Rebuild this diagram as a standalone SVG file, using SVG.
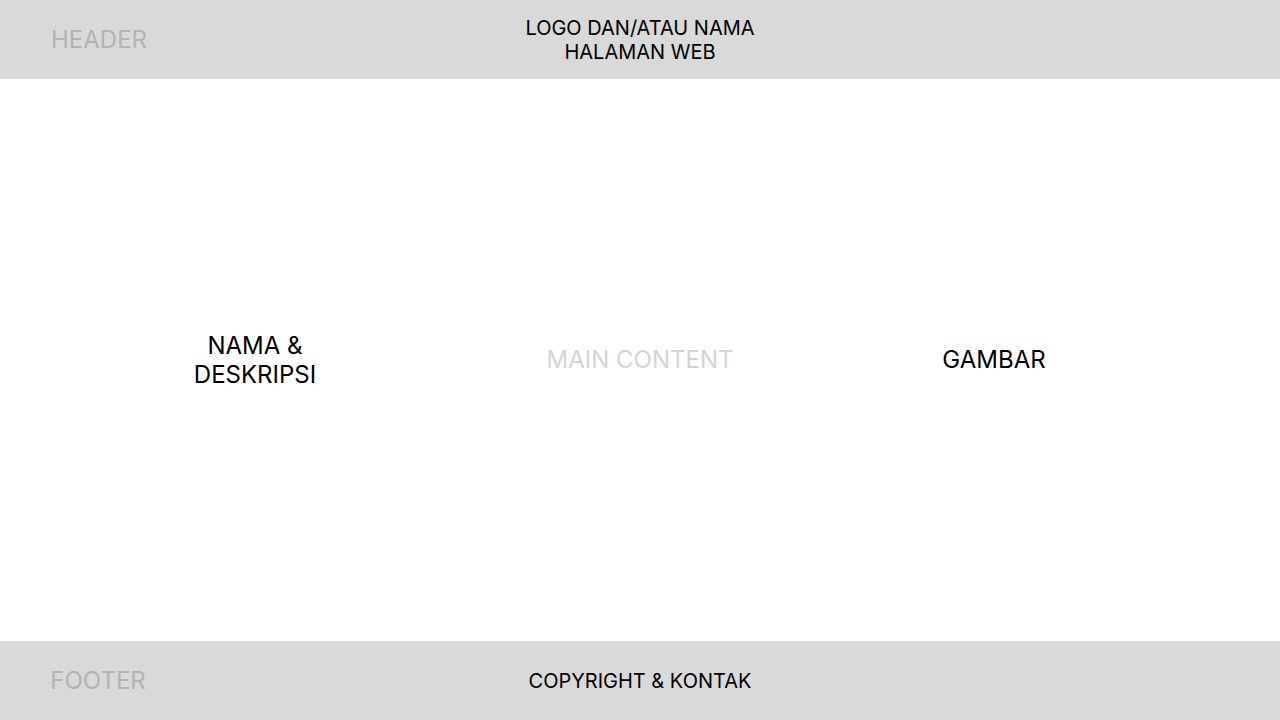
<svg xmlns="http://www.w3.org/2000/svg" width="1280" height="720" viewBox="0 0 1280 720">
<style>
text{font-family:Inter,"Liberation Sans",sans-serif;text-anchor:middle}
.band{fill:#d9d9d9}
.lbl{font-size:24px;fill:#b3b3b3}
.t20{font-size:20px;fill:#000}
.t24{font-size:24px;fill:#000}
</style>
<rect width="1280" height="720" fill="#fff"/>
<g id="header">
<rect class="band" x="0" y="0" width="1280" height="79"/>
<text class="lbl" x="99" y="48">HEADER</text>
<text class="t20" x="640" y="35">LOGO DAN/ATAU NAMA</text>
<text class="t20" x="640" y="59">HALAMAN WEB</text>
</g>
<g id="main">
<text class="lbl" x="640" y="368" style="fill:#d4d4d4">MAIN CONTENT</text>
</g>
<g id="nama">
<text class="t24" x="255" y="354">NAMA &amp;</text>
<text class="t24" x="255" y="383">DESKRIPSI</text>
</g>
<g id="gambar">
<text class="t24" x="994" y="368">GAMBAR</text>
</g>
<g id="footer">
<rect class="band" x="0" y="641" width="1280" height="79"/>
<text class="lbl" x="98" y="689">FOOTER</text>
<text class="t20" x="640" y="688">COPYRIGHT &amp; KONTAK</text>
</g>
<g id="connectors"/>
</svg>
